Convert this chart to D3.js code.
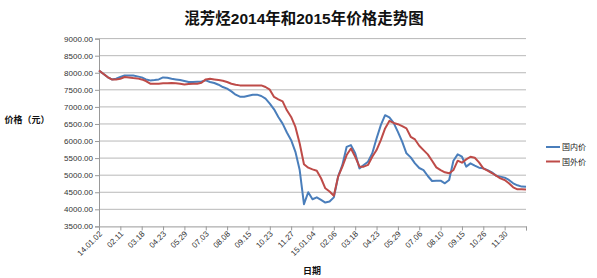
<!DOCTYPE html>
<html>
<head>
<meta charset="utf-8">
<script src="https://cdn.jsdelivr.net/npm/d3@7"></script>
<style>
  body { margin: 0; background: #fff; }
  text { font-family: "Liberation Sans", Arial, "Noto Sans CJK SC", sans-serif; }
</style>
</head>
<body>
<svg id="chart" width="597" height="278"></svg>
<script>
// tick labels along the date axis (every 25 trading days)
var dateLabels = ['14.01.02','02.11','03.18','04.23','05.29','07.03','08.08','09.15','10.23','11.27',
                  '15.01.04','02.06','03.18','04.23','05.29','07.06','08.10','09.15','10.26','11.30'];
var yTicks = [3500,4000,4500,5000,5500,6000,6500,7000,7500,8000,8500,9000];
// one value every 5 trading days
var domestic = [8068,7971,7874,7805,7825,7874,7922,7922,7922,7893,
                7864,7805,7776,7786,7805,7864,7854,7825,7805,7786,
                7757,7728,7728,7737,7747,7776,7728,7698,7650,7582,
                7533,7455,7358,7299,7299,7329,7358,7358,7319,7241,
                7095,6930,6706,6511,6249,6025,5684,5149,4150,4500,
                4295,4350,4276,4198,4227,4350,4957,5300,5830,5880,
                5640,5200,5300,5395,5640,6075,6465,6757,6690,6530,
                6270,5980,5640,5521,5346,5210,5150,4976,4830,4840,
                4840,4762,4860,5424,5610,5540,5250,5346,5278,5220,
                5200,5150,5083,4986,4957,4928,4860,4762,4704,4665,4660];
var foreign = [8068,7971,7874,7805,7805,7825,7874,7864,7844,7835,
               7805,7757,7679,7679,7679,7689,7689,7698,7689,7679,
               7659,7669,7679,7679,7708,7805,7825,7805,7786,7767,
               7728,7679,7650,7630,7630,7630,7630,7630,7630,7582,
               7504,7290,7222,7163,6900,6706,6414,5928,5320,5220,
               5170,5130,4910,4616,4520,4400,4957,5250,5590,5780,
               5540,5250,5250,5300,5540,5735,6027,6370,6590,6530,
               6494,6436,6370,6124,6046,5862,5735,5609,5424,5229,
               5150,5083,5054,5150,5424,5365,5462,5540,5511,5375,
               5200,5132,5064,4986,4908,4860,4762,4645,4587,4587,4580];
var seriesNames = ['国内价','国外价'];
var step = 5, totalDays = 500;

var svg = d3.select('#chart');
var x = d3.scaleLinear().domain([0, totalDays]).range([99, 526]);
var y = d3.scaleLinear().domain([3500, 9000]).range([226.4, 38.6]);

svg.append('text').text('混芳烃2014年和2015年价格走势图')
    .attr('x', 304).attr('y', 24).attr('text-anchor', 'middle')
    .attr('font-size', 15.5).attr('font-weight', 'bold').attr('fill', '#111');

// gridlines
svg.append('g').selectAll('line').data(yTicks.slice(1)).enter().append('line')
    .attr('x1', x(0)).attr('x2', x(totalDays))
    .attr('y1', d => y(d)).attr('y2', d => y(d))
    .attr('stroke', '#b8b8b8').attr('stroke-width', 1);

// y axis
var yAxis = svg.append('g').attr('transform', 'translate(' + x(0) + ',0)')
    .call(d3.axisLeft(y).tickValues(yTicks).tickFormat(d3.format('.2f')).tickSize(4));
yAxis.select('.domain').attr('stroke', '#999');
yAxis.selectAll('.tick line').attr('stroke', '#999');
yAxis.selectAll('text').attr('font-size', 8).attr('fill', '#333').attr('x', -6)
    .attr('font-family', '"Liberation Sans", Arial, sans-serif');

// x axis
var xAxis = svg.append('g').attr('transform', 'translate(0,' + y(3500) + ')')
    .call(d3.axisBottom(x).tickValues(d3.range(0, totalDays + 1, 25)).tickSize(4)
        .tickFormat((d, i) => dateLabels[i] || ''));
xAxis.select('.domain').attr('stroke', '#999');
xAxis.selectAll('.tick line').attr('stroke', '#999');
xAxis.selectAll('text').attr('font-size', 8).attr('fill', '#333')
    .attr('text-anchor', 'end').attr('dy', 0).attr('y', 7.8).attr('x', -3.5)
    .attr('transform', 'rotate(-45)');

svg.append('text').text('价格（元）').attr('x', 27).attr('y', 123)
    .attr('text-anchor', 'middle').attr('font-size', 9).attr('font-weight', 'bold').attr('fill', '#111');
svg.append('text').text('日期').attr('x', 312).attr('y', 274)
    .attr('text-anchor', 'middle').attr('font-size', 9).attr('font-weight', 'bold').attr('fill', '#111');

var colors = ['#4a7ebb', '#be4b48'];
var line = d3.line().x((d, i) => x(i * step)).y(d => y(d));
[domestic, foreign].forEach(function (s, j) {
    svg.append('path').datum(s).attr('d', line)
        .attr('fill', 'none').attr('stroke', colors[j]).attr('stroke-width', 2)
        .attr('stroke-linejoin', 'round');
});

// legend
seriesNames.forEach(function (n, j) {
    var ly = 147 + j * 14.5;
    svg.append('line').attr('x1', 546).attr('x2', 560).attr('y1', ly).attr('y2', ly)
        .attr('stroke', colors[j]).attr('stroke-width', 2);
    svg.append('text').text(n).attr('x', 562).attr('y', ly + 3)
        .attr('font-size', 8).attr('fill', '#222');
});
</script>
</body>
</html>
